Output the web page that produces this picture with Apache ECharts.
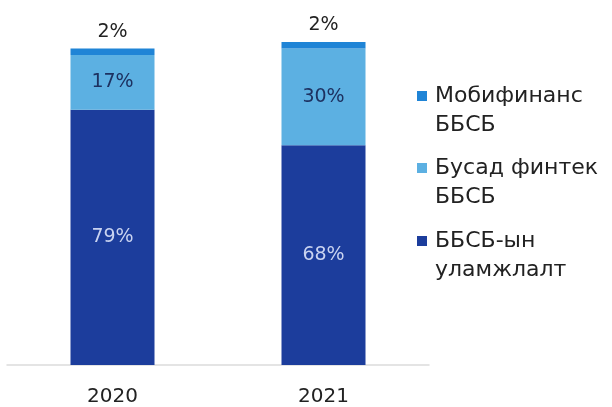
<!DOCTYPE html>
<html><head><meta charset="utf-8">
<script src="https://cdn.jsdelivr.net/npm/echarts@6/dist/echarts.min.js"></script>
<style>html,body{margin:0;padding:0;background:#fff}#c{width:612px;height:407px}</style>
</head><body><div id="c"></div>
<script>
const categories = ['2020', '2021'];
const seriesNames = ['Мобифинанс\nББСБ', 'Бусад финтек\nББСБ', 'ББСБ-ын\nуламжлалт'];
const mobifinance = [2, 2];
const otherFintech = [17, 30];
const traditional = [79, 68];
const colors = ['#1f84d6', '#5cb0e2', '#1c3d9c'];
const F = '"DejaVu Sans",sans-serif';

const chart = echarts.init(document.getElementById('c'));
const legendGraphics = [];
const legendTops = [82, 154, 227];
seriesNames.forEach((n, i) => {
  legendGraphics.push({type: 'rect', left: 417, top: legendTops[i] + 9, shape: {width: 10, height: 10}, style: {fill: colors[i]}});
  legendGraphics.push({type: 'text', left: 435, top: legendTops[i], style: {text: n, font: '22px ' + F, fill: '#222', lineHeight: 29}});
});
chart.setOption({
  animation: false,
  grid: {left: 7, right: 183, top: 42, bottom: 41},
  xAxis: {type: 'category', data: categories,
    axisLine: {lineStyle: {color: '#dcdcdc', width: 1.5}}, axisTick: {show: false},
    axisLabel: {fontSize: 20, color: '#222', fontFamily: F, margin: 22}},
  yAxis: {type: 'value', min: 0, max: 100, show: false},
  graphic: legendGraphics,
  series: [
    {name: seriesNames[2], type: 'bar', stack: 's', data: traditional, barWidth: 84,
      itemStyle: {color: colors[2]},
      label: {show: true, position: 'inside', formatter: '{c}%', fontSize: 19, color: '#c9d3f0', fontFamily: F}},
    {name: seriesNames[1], type: 'bar', stack: 's', data: otherFintech, barWidth: 84,
      itemStyle: {color: colors[1]},
      label: {show: true, position: 'inside', formatter: '{c}%', fontSize: 19, color: '#1d3160', fontFamily: F}},
    {name: seriesNames[0], type: 'bar', stack: 's', data: mobifinance, barWidth: 84,
      itemStyle: {color: colors[0]},
      label: {show: true, position: 'top', distance: 7, formatter: '{c}%', fontSize: 19, color: '#222', fontFamily: F}}
  ]
});
</script></body></html>
